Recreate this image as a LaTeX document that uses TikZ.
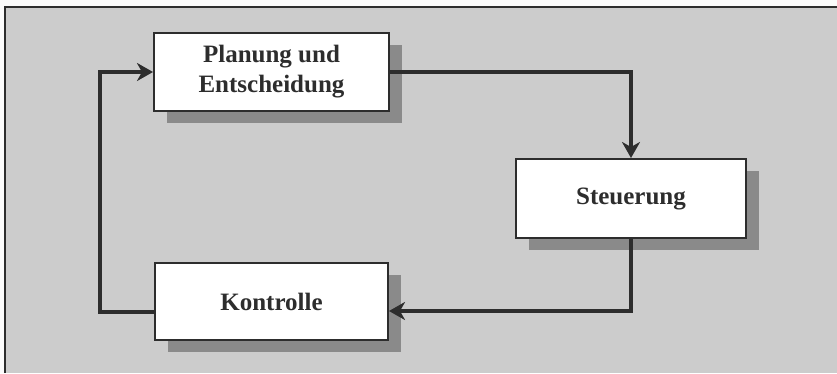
\documentclass[tikz,border=0pt]{standalone}
\usepackage{fontspec}
\setmainfont{Liberation Serif}
\usetikzlibrary{arrows.meta,calc,shadows}
\definecolor{bggray}{RGB}{204,204,204}
\definecolor{shgray}{RGB}{138,138,138}
\definecolor{ink}{RGB}{45,45,45}
\tikzset{
  box/.style={draw=ink, line width=2pt, fill=white, inner sep=0pt, align=center,
    text=ink, font=\fontsize{25}{30}\selectfont\bfseries,
    drop shadow={shadow xshift=13pt, shadow yshift=-12pt, fill=shgray, opacity=1}},
  conn/.style={draw=ink, line width=3.6pt, -{Stealth[length=16pt,width=18pt,inset=5pt]}},
}
\begin{document}
\begin{tikzpicture}[x=1pt,y=-1pt]
\useasboundingbox (0,0) rectangle (837,373);
\fill[white!92!bggray] (0,0) rectangle (837,373);
\fill[bggray] (5,7) rectangle (837,373);
\draw[ink, line width=2pt] (5,373) -- (5,7) -- (837,7);
\node[box, minimum width=235pt, minimum height=78pt] (p) at (271.5,72) {Planung und\\Entscheidung};
\node[box, minimum width=230pt, minimum height=79pt] (s) at (631,198.5) {Steuerung};
\node[box, minimum width=233pt, minimum height=77pt] (k) at (271.5,301.5) {Kontrolle};
\coordinate (lx) at (100,312);
\draw[conn] (p.east) -| (s.north);
\draw[conn] (s.south) |- ($(k.east)+(0,9.5)$);
\draw[conn] ($(k.west)+(0,10.5)$) -- (lx) |- (p.west);
\end{tikzpicture}
\end{document}
